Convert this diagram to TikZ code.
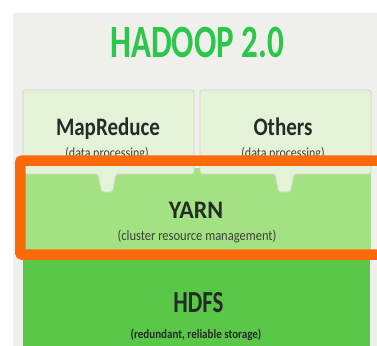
\documentclass[tikz,border=0pt]{standalone}
\usepackage{fontspec}
\setmainfont{Carlito}
\definecolor{panelgray}{HTML}{EFEFEC}
\definecolor{titlegreen}{HTML}{2BC64A}
\definecolor{paleGreen}{HTML}{E4F3D8}
\definecolor{paleBorder}{HTML}{CDD8C4}
\definecolor{yarnGreen}{HTML}{A2E283}
\definecolor{hdfsGreen}{HTML}{5BC748}
\definecolor{hiOrange}{HTML}{FA6A0A}
\definecolor{labelDark}{HTML}{252B27}
\tikzset{
  panelbox/.style={fill=panelgray, draw=none},
  upperbox/.style={fill=paleGreen, draw=paleBorder, line width=0.8pt, rounded corners=2.5pt},
  yarnbox/.style={fill=yarnGreen, draw=none},
  hdfsbox/.style={fill=hdfsGreen, draw=none},
  highlight/.style={draw=hiOrange, line width=10.5pt, rounded corners=2pt},
  titletext/.style={anchor=base, inner sep=0pt, text=titlegreen, font=\fontsize{33}{36}\selectfont\bfseries},
  bigtext/.style={anchor=base, inner sep=0pt, text=labelDark, font=\fontsize{21}{24}\selectfont\bfseries},
  smalltext/.style={anchor=base, inner sep=0pt, text=labelDark!90!white, font=\fontsize{12}{14}\selectfont},
}
\begin{document}
\begin{tikzpicture}[x=1pt, y=-1pt]
\useasboundingbox (0,0) rectangle (377,345);
\clip (0,0) rectangle (377,345);
\fill[white] (0,0) rectangle (377,345);
% panel
\path[panelbox] (13,13) rectangle (390,360);
% YARN layer
\path[yarnbox] (23,168) rectangle (371,258);
% HDFS layer
\path[hdfsbox] (23,256) rectangle (370,360);
% upper boxes with tabs
\path[upperbox] (23,90) -- (194,90) -- (194,174) -- (116,174) -- (112.5,192) -- (101.5,192) -- (98,174) -- (23,174) -- cycle;
\path[upperbox] (200,90) -- (371,90) -- (371,174) -- (294,174) -- (290.5,192) -- (278.5,192) -- (275,174) -- (200,174) -- cycle;
% texts
\node[titletext] (title) at (197,58) {\scalebox{1}[1.4]{HADOOP 2.0}};
\node[bigtext] (mr) at (108,135) {\scalebox{1}[1.2]{MapReduce}};
\node[smalltext] (mrsub) at (107,157) {\scalebox{1}[1.15]{(data processing)}};
\node[bigtext] (oth) at (283,135) {\scalebox{1}[1.2]{Others}};
\node[smalltext] (othsub) at (283,157) {\scalebox{1}[1.15]{(data processing)}};
\node[bigtext, font=\fontsize{24}{28}\selectfont\bfseries] (yarn) at (196,218) {\scalebox{1}[1.05]{YARN}};
\node[smalltext, font=\fontsize{12.5}{14}\selectfont] (yarnsub) at (197,240) {\scalebox{1}[1.15]{(cluster resource management)}};
\node[bigtext, font=\fontsize{23}{28}\selectfont\bfseries] (hdfs) at (198.5,312) {\scalebox{1}[1.33]{HDFS}};
\node[smalltext, font=\fontsize{11}{13}\selectfont\bfseries, text=labelDark] (hdfssub) at (196,338) {\scalebox{1}[1.15]{(redundant, reliable storage)}};
% orange highlight
\draw[highlight] (20.25,160.5) rectangle (395,254.5);
\end{tikzpicture}
\end{document}
